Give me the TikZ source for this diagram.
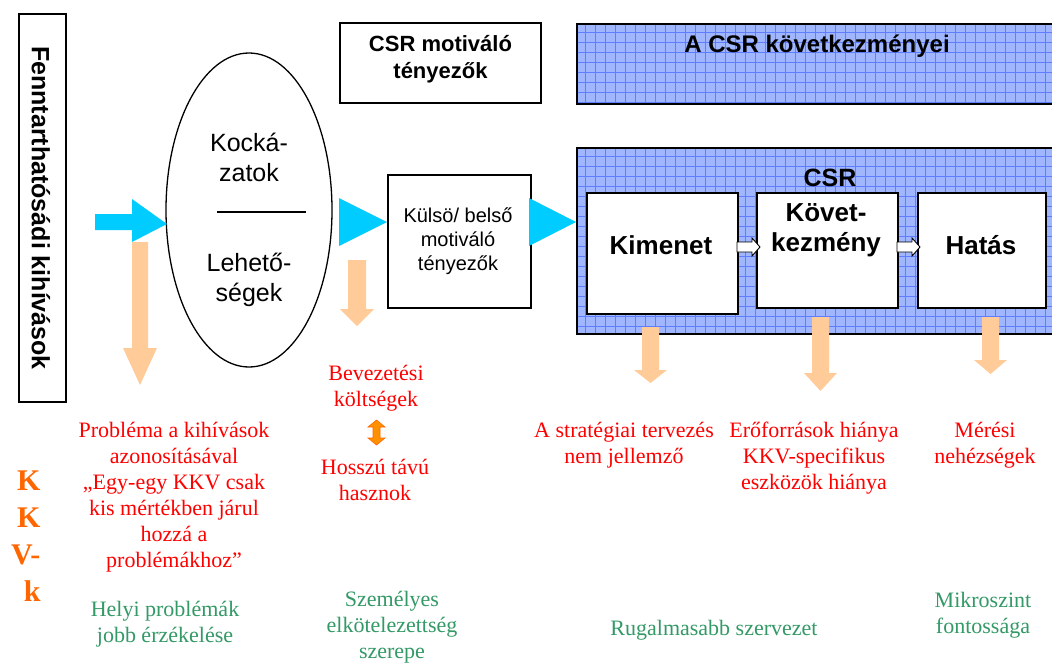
\documentclass[tikz,border=0pt]{standalone}
\usepackage{fontspec}
\setmainfont{Liberation Serif}
\setsansfont{Liberation Sans}
\usetikzlibrary{shapes.geometric}
\definecolor{cyanA}{RGB}{0,204,255}
\definecolor{peach}{RGB}{255,204,153}
\definecolor{bluefill}{RGB}{160,182,255}
\definecolor{blueline}{RGB}{95,125,255}
\definecolor{redtxt}{RGB}{255,0,0}
\definecolor{greentxt}{RGB}{51,153,102}
\definecolor{orangetxt}{RGB}{255,102,0}
\definecolor{dorange}{RGB}{255,145,0}
\tikzset{
  wbox/.style={draw, fill=white, line width=1.8, inner sep=0, anchor=north west},
  sansreg/.style={font=\sffamily\fontsize{20}{24}\selectfont, align=center},
  sansbold/.style={font=\sffamily\bfseries\fontsize{26}{30}\selectfont, align=center},
  redtext/.style={font=\fontsize{22}{26}\selectfont, text=redtxt, align=center},
  greentext/.style={font=\fontsize{22}{26}\selectfont, text=greentxt, align=center},
  cyanarrow/.style={fill=cyanA},
  peacharrow/.style={fill=peach},
  gridline/.style={blueline, line width=0.5}
}
\begin{document}
\begin{tikzpicture}[x=1pt,y=-1pt]
\clip (0,0) rectangle (1052,662);
\fill[white] (0,0) rectangle (1052,662);

% left vertical box
\node[draw, line width=1.3, minimum width=47, minimum height=388, inner sep=0] (side) at (42.5,208) {};
\node[rotate=-90, font=\sffamily\bfseries\fontsize{25}{28}\selectfont] (sidetxt) at (41,208) {Fenntarthatósádi kihívások};

% ellipse
\node[ellipse, draw, line width=1.3, minimum width=166, minimum height=314, inner sep=0] (ell) at (249,210) {};
\node[font=\sffamily\fontsize{25}{30}\selectfont, align=center] (kock) at (249,157) {Kocká-\\zatok};
\node[font=\sffamily\fontsize{25}{30}\selectfont, align=center] (lehet) at (249,280) {Lehető-\\ségek};
\coordinate (sepL) at (217,212);
\coordinate (sepR) at (306,212);
\draw[line width=1.3] (sepL) -- (sepR);

% CSR motivalo box (top)
\node[draw, line width=1.5, minimum width=201, minimum height=80, inner sep=0] (motbox) at (440.5,63) {};
\node[font=\sffamily\bfseries\fontsize{22}{27}\selectfont, align=center] (mottxt) at (440.5,59) {CSR motiváló\\tényezők};

% blue top box
\fill[bluefill] (576,23) rectangle (1060,103);
\foreach \x in {585,595,...,1055} \draw[gridline] (\x,23) -- (\x,103);
\foreach \y in {32,42,...,102} \draw[gridline] (576,\y) -- (1060,\y);
\node[draw, line width=1.5, minimum width=484, minimum height=80, inner sep=0, anchor=north west] (kovbox) at (576,23) {};
\node[font=\sffamily\bfseries\fontsize{24}{28}\selectfont] (kovtxt) at (817,46) {A CSR következményei};

% blue CSR box
\fill[bluefill] (576,147) rectangle (1060,333);
\foreach \x in {585,595,...,1055} \draw[gridline] (\x,147) -- (\x,333);
\foreach \y in {156,166,...,332} \draw[gridline] (576,\y) -- (1060,\y);
\node[draw, line width=1.8, minimum width=484, minimum height=186, inner sep=0, anchor=north west] (csrbox) at (576,147) {};
\node[font=\sffamily\bfseries\fontsize{25}{29}\selectfont] (csrtxt) at (830,178) {CSR};

% inner boxes
\node[wbox, minimum width=151, minimum height=121] (kim) at (586,192) {};
\node[sansbold] (kimtxt) at (661,245) {Kimenet};
\node[wbox, minimum width=141, minimum height=115] (kov) at (756,192) {};
\node[sansbold] (kovt) at (826,230) {Követ-\\kezmény};
\node[wbox, minimum width=128, minimum height=115] (hat) at (917,192) {};
\node[sansbold] (hattxt) at (981,245) {Hatás};

% small white arrows
\filldraw[fill=white, draw=black, line width=0.9] (737,242) -- (752,242) -- (752,238) -- (760,247) -- (752,256) -- (752,252) -- (737,252) -- cycle;
\filldraw[fill=white, draw=black, line width=0.9] (897,242) -- (912,242) -- (912,238) -- (920,247) -- (912,256) -- (912,252) -- (897,252) -- cycle;

% Kulso/belso box
\node[draw, line width=1.5, minimum width=143, minimum height=133, inner sep=0, anchor=north west] (kulbox) at (387,174) {};
\node[sansreg] (kultxt) at (458,241) {Külsö/ belső\\motiváló\\tényezők};

% cyan arrows
\fill[cyanarrow] (95,214) -- (132,214) -- (132,199) -- (167,224) -- (132,242) -- (132,230) -- (95,230) -- cycle;
\fill[cyanarrow] (339,198) -- (387,222) -- (339,246) -- cycle;
\fill[cyanarrow] (529,198) -- (576,222) -- (529,246) -- cycle;

% peach arrows
\fill[peacharrow] (132,242) -- (148,242) -- (148,348) -- (157,348) -- (140,385) -- (123,348) -- (132,348) -- cycle;
\fill[peacharrow] (348,260) -- (366,260) -- (366,309) -- (374,309) -- (357,326) -- (340,309) -- (348,309) -- cycle;
\fill[peacharrow] (642,327) -- (659,327) -- (659,370) -- (667,370) -- (650.5,383) -- (634,370) -- (642,370) -- cycle;
\fill[peacharrow] (812,317) -- (829,317) -- (829,373) -- (837,373) -- (820.5,391) -- (804,373) -- (812,373) -- cycle;
\fill[peacharrow] (982,317) -- (999,317) -- (999,360) -- (1007,360) -- (990.5,374) -- (974,360) -- (982,360) -- cycle;

% red texts
\node[redtext] (bev) at (376,388) {Bevezetési\\költségek};
\filldraw[fill=dorange, draw=orangetxt, line width=0.6] (376.5,420) -- (385,427) -- (380,427) -- (380,438) -- (385,438) -- (376.5,445) -- (368,438) -- (373,438) -- (373,427) -- (368,427) -- cycle;
\node[redtext] (hossz) at (375,480) {Hosszú távú\\hasznok};
\node[redtext] (prob) at (174,497) {Probléma a kihívások\\azonosításával\\„Egy-egy KKV csak\\kis mértékben járul\\hozzá a\\problémákhoz”};
\node[redtext] (strat) at (624,445) {A stratégiai tervezés\\nem jellemző};
\node[redtext] (erof) at (814,458) {Erőforrások hiánya\\KKV-specifikus\\eszközök hiánya};
\node[redtext] (meres) at (985,445) {Mérési\\nehézségek};

% green texts
\node[greentext] (helyi) at (165,624) {Helyi problémák\\jobb érzékelése};
\node[greentext] (szem) at (392,627) {Személyes\\elkötelezettség\\szerepe};
\node[greentext] (rugal) at (714,630) {Rugalmasabb szervezet};
\node[greentext] (mikro) at (983,615) {Mikroszint\\fontossága};

% KKV-k
\node[font=\bfseries\fontsize{30}{37}\selectfont, text=orangetxt, align=right, anchor=east] (kkv) at (44,536) {K\\K\\V-\\k};
\end{tikzpicture}
\end{document}
